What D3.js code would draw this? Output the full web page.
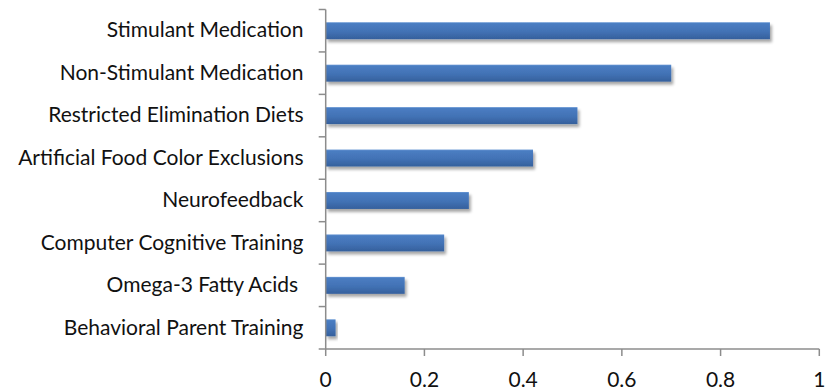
<!DOCTYPE html>
<html>
<head>
<meta charset="utf-8">
<script src="https://cdn.jsdelivr.net/npm/d3@7/dist/d3.min.js"></script>
<style>
  html, body { margin: 0; padding: 0; background: #fff; }
  svg { display: block; }
  text { font-family: Lato, "Open Sans", sans-serif; fill: #111; }
</style>
</head>
<body>
<svg id="chart" width="837" height="392"></svg>
<script>
const categories = [
  "Stimulant Medication",
  "Non-Stimulant Medication",
  "Restricted Elimination Diets",
  "Artificial Food Color Exclusions",
  "Neurofeedback",
  "Computer Cognitive Training",
  "Omega-3 Fatty Acids ",
  "Behavioral Parent Training"
];
const values = [0.9, 0.7, 0.51, 0.42, 0.29, 0.24, 0.16, 0.02];
const xTicks = [0, 0.2, 0.4, 0.6, 0.8, 1];
const xTickLabels = ["0", "0.2", "0.4", "0.6", "0.8", "1"];

const svg = d3.select("#chart");
const mLeft = 325.7, mRight = 819.3, mTop = 9.5, mBottom = 349;

const x = d3.scaleLinear().domain([0, 1]).range([mLeft, mRight]);
const y = d3.scaleBand().domain(categories).range([mTop, mBottom]).paddingInner(0.6).paddingOuter(0.3);

const defs = svg.append("defs");
const grad = defs.append("linearGradient").attr("id", "barGrad")
  .attr("x1", 0).attr("y1", 0).attr("x2", 0).attr("y2", 1);
grad.append("stop").attr("offset", "0%").attr("stop-color", "#6b9ad6");
grad.append("stop").attr("offset", "8%").attr("stop-color", "#4a7dc2");
grad.append("stop").attr("offset", "55%").attr("stop-color", "#4272b5");
grad.append("stop").attr("offset", "100%").attr("stop-color", "#35609c");

const filt = defs.append("filter").attr("id", "shadow")
  .attr("x", "-10%").attr("y", "-30%").attr("width", "130%").attr("height", "190%");
filt.append("feGaussianBlur").attr("in", "SourceAlpha").attr("stdDeviation", 1.8).attr("result", "blur");
filt.append("feOffset").attr("in", "blur").attr("dx", 1.5).attr("dy", 2.5).attr("result", "off");
filt.append("feComponentTransfer").attr("in", "off").attr("result", "sh")
  .append("feFuncA").attr("type", "linear").attr("slope", 0.35);
const merge = filt.append("feMerge");
merge.append("feMergeNode").attr("in", "sh");
merge.append("feMergeNode").attr("in", "SourceGraphic");

// Bars
svg.append("g").selectAll("rect")
  .data(categories.map((c, i) => ({c, v: values[i]})))
  .join("rect")
  .attr("x", x(0))
  .attr("y", d => y(d.c))
  .attr("width", d => x(d.v) - x(0))
  .attr("height", y.bandwidth())
  .attr("fill", "url(#barGrad)")
  .attr("filter", "url(#shadow)");

const axisColor = "#8c8c8c";

// Y axis: line + tick marks at band boundaries
const boundaries = d3.range(categories.length + 1).map(i => mTop + i * y.step());
const ya = svg.append("g");
ya.append("line").attr("x1", mLeft).attr("x2", mLeft).attr("y1", mTop).attr("y2", mBottom)
  .attr("stroke", axisColor).attr("stroke-width", 1.5);
ya.selectAll("line.t").data(boundaries).join("line").attr("class", "t")
  .attr("x1", mLeft - 7).attr("x2", mLeft).attr("y1", d => d).attr("y2", d => d)
  .attr("stroke", axisColor).attr("stroke-width", 1.5);
ya.selectAll("text").data(categories).join("text")
  .attr("x", 303.5)
  .attr("y", d => y(d) + y.bandwidth() / 2)
  .attr("dy", "0.32em")
  .attr("text-anchor", "end")
  .attr("font-size", "21px")
  .attr("xml:space", "preserve")
  .style("white-space", "pre")
  .text(d => d);

// X axis
const xa = svg.append("g");
xa.append("line").attr("x1", mLeft).attr("x2", mRight).attr("y1", mBottom).attr("y2", mBottom)
  .attr("stroke", axisColor).attr("stroke-width", 1.5);
xa.selectAll("line.t").data(xTicks).join("line").attr("class", "t")
  .attr("x1", d => x(d)).attr("x2", d => x(d)).attr("y1", mBottom).attr("y2", mBottom + 7)
  .attr("stroke", axisColor).attr("stroke-width", 1.5);
xa.selectAll("text").data(xTicks).join("text")
  .attr("x", d => x(d))
  .attr("y", 387)
  .attr("text-anchor", "middle")
  .attr("font-size", "21px")
  .text((d, i) => xTickLabels[i]);
</script>
</body>
</html>
